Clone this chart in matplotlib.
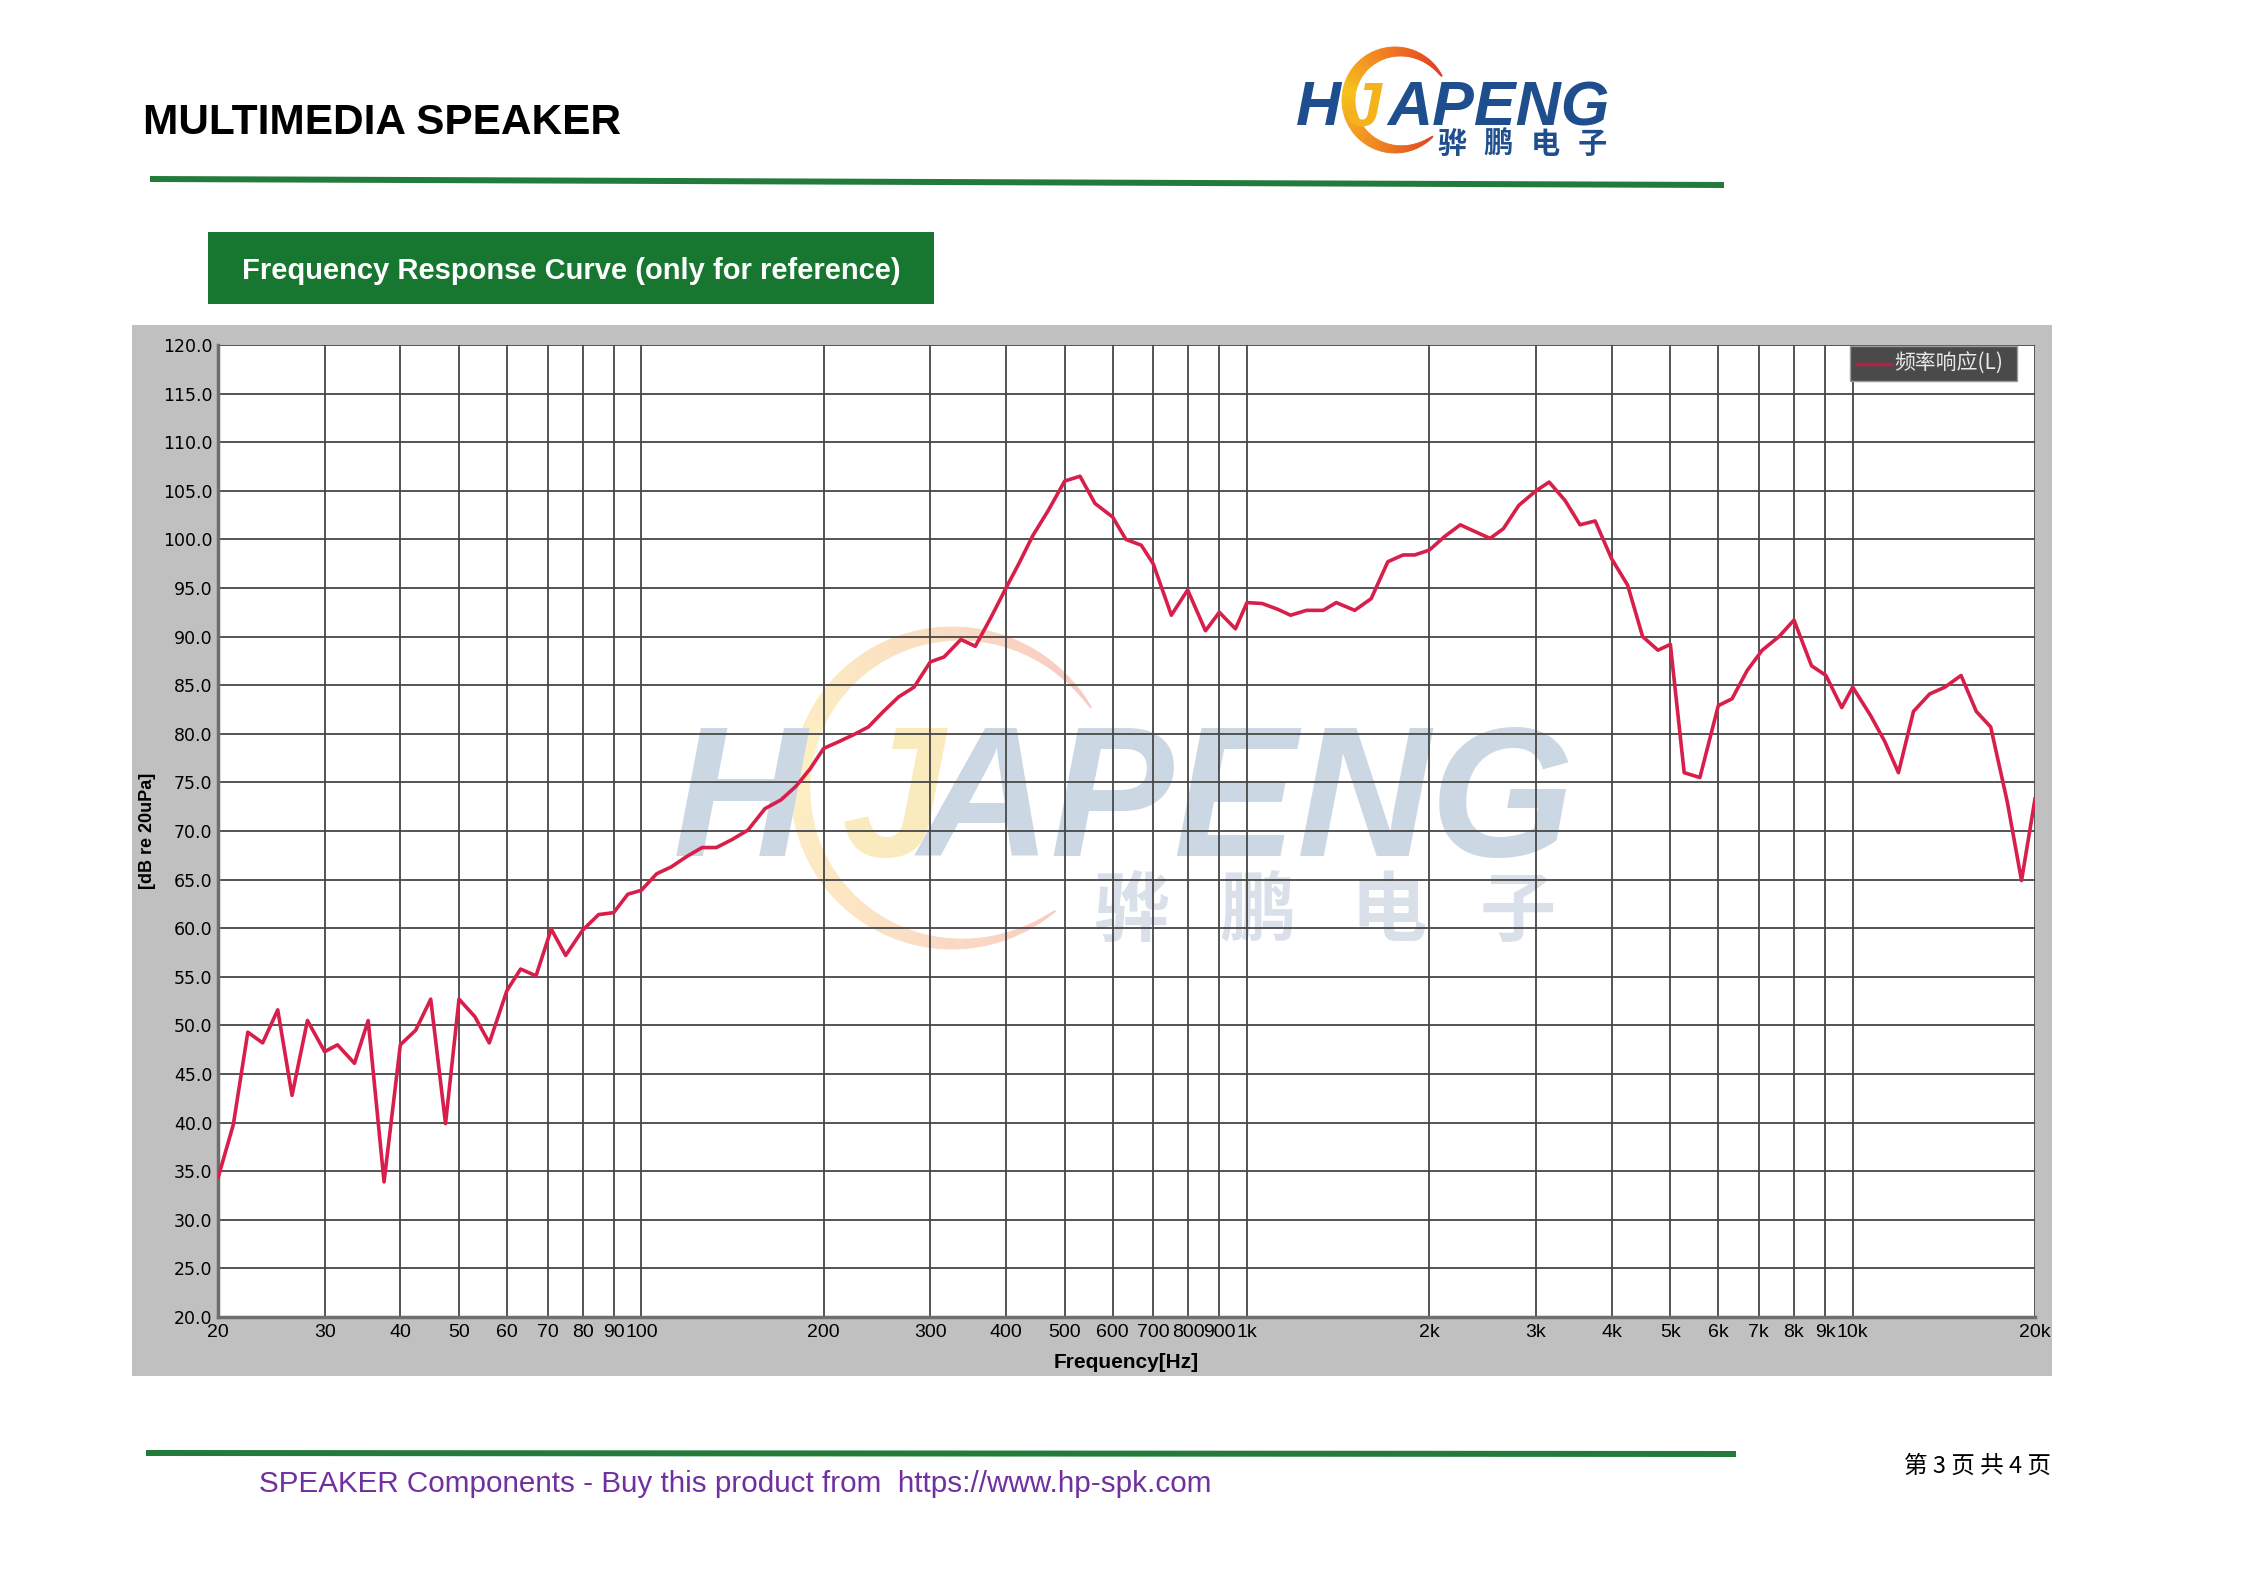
import numpy as np
import matplotlib
matplotlib.use('Agg')
import matplotlib.pyplot as plt
from matplotlib import transforms
from matplotlib.patches import Rectangle, Polygon
from matplotlib.lines import Line2D
from matplotlib.colors import LinearSegmentedColormap, to_rgb
from matplotlib.ticker import FixedLocator, FixedFormatter, NullLocator

W, H = 2245, 1587

# ---------------- data ----------------
freq_hz = [20, 21.2, 22.4, 23.7, 25.1, 26.5, 28.1, 30, 31.5, 33.6,
           35.4, 37.6, 40, 42.4, 44.9, 47.5, 50, 53.1, 56.1, 60,
           63.2, 67, 71, 75, 80, 85, 90, 95, 100, 106,
           112, 119, 126, 133, 141, 150, 160, 170, 180, 190,
           200, 212, 224, 237, 251, 266, 282, 300, 316, 337,
           356, 378, 400, 420, 443, 470, 500, 530, 561, 600,
           631, 669, 700, 750, 798, 854, 900, 957, 1000, 1060,
           1125, 1180, 1254, 1336, 1404, 1506, 1603, 1708, 1810, 1892,
           2000, 2120, 2250, 2380, 2520, 2650, 2810, 3000, 3154, 3351,
           3547, 3756, 4000, 4250, 4500, 4770, 5000, 5270, 5594, 6000,
           6321, 6694, 7090, 7556, 8000, 8551, 9034, 9594, 10000, 10700,
           11300, 11900, 12600, 13400, 14200, 15100, 16000, 16900, 18000, 19000,
           20000]
spl_db = [34.3, 39.8, 49.3, 48.2, 51.6, 42.8, 50.5, 47.3, 48.0, 46.1,
          50.5, 33.9, 48.0, 49.5, 52.7, 39.9, 52.7, 50.9, 48.2, 53.6,
          55.8, 55.1, 59.9, 57.2, 59.8, 61.4, 61.6, 63.5, 63.9, 65.6,
          66.3, 67.4, 68.3, 68.3, 69.1, 70.1, 72.3, 73.2, 74.6, 76.4,
          78.5, 79.2, 79.9, 80.7, 82.3, 83.8, 84.8, 87.4, 87.9, 89.7,
          89.0, 92.0, 95.0, 97.5, 100.4, 103.0, 106.0, 106.5, 103.7, 102.3,
          100.0, 99.4, 97.5, 92.2, 94.8, 90.6, 92.5, 90.8, 93.5, 93.4,
          92.8, 92.2, 92.7, 92.7, 93.5, 92.7, 93.9, 97.7, 98.4, 98.4,
          98.9, 100.3, 101.5, 100.8, 100.1, 101.1, 103.5, 105.0, 105.9, 104.0,
          101.5, 101.9, 98.0, 95.3, 90.0, 88.6, 89.2, 76.0, 75.5, 82.9,
          83.6, 86.5, 88.6, 90.0, 91.7, 87.0, 86.0, 82.7, 84.8, 81.9,
          79.2, 76.0, 82.3, 84.1, 84.8, 86.0, 82.3, 80.7, 73.0, 64.9,
          73.3]

x_ticks = [20, 30, 40, 50, 60, 70, 80, 90, 100, 200, 300, 400, 500, 600, 700,
           800, 900, 1000, 2000, 3000, 4000, 5000, 6000, 7000, 8000, 9000,
           10000, 20000]
x_tick_labels = ['20', '30', '40', '50', '60', '70', '80', '90', '100', '200',
                 '300', '400', '500', '600', '700', '800', '900', '1k', '2k',
                 '3k', '4k', '5k', '6k', '7k', '8k', '9k', '10k', '20k']
y_ticks = [20, 25, 30, 35, 40, 45, 50, 55, 60, 65, 70, 75, 80, 85, 90, 95,
           100, 105, 110, 115, 120]
y_tick_labels = ['%.1f' % v for v in y_ticks]

title_text = 'MULTIMEDIA SPEAKER'
box_text = 'Frequency Response Curve (only for reference)'
legend_text = '频率响应(L)'
x_label = 'Frequency[Hz]'
y_label = '[dB re 20uPa]'
footer_text = 'SPEAKER Components - Buy this product from  https://www.hp-spk.com'
page_text = '第 3 页 共 4 页'
brand_cn = ['骅', '鹏', '电', '子']

SANS = ['Liberation Sans', 'DejaVu Sans']
NARROW = ['Liberation Sans Narrow', 'Liberation Sans', 'DejaVu Sans']
CJK = ['Noto Sans CJK SC', 'DejaVu Sans']

fig = plt.figure(figsize=(W / 100, H / 100), dpi=100)
fig.patch.set_facecolor('white')

# pixel transforms: TD = top-left origin (reference pixel), TU = bottom-left origin
TD = transforms.Affine2D().scale(1 / W, -1 / H).translate(0, 1) + fig.transFigure
TU = transforms.Affine2D().scale(1 / W, 1 / H) + fig.transFigure


def blend(c, a):
    r, g, b = to_rgb(c)
    return (1 - a + a * r, 1 - a + a * g, 1 - a + a * b)


def crescent(add, cx, cy_ref, R, tmax, a0, a1, colors, alpha, zorder, n=80):
    cy = H - cy_ref
    cmap = LinearSegmentedColormap.from_list('c', colors)
    angs = np.linspace(a0, a1, n + 1)
    for i in range(n):
        sub = np.linspace(angs[i], angs[i + 1], 4)
        frac = (sub - a0) / (a1 - a0)
        t = tmax * np.sin(np.pi * frac) ** 0.8 + 1.0
        outer = [(cx + R * np.cos(np.radians(a)), cy + R * np.sin(np.radians(a))) for a in sub]
        inner = [(cx + (R - ti) * np.cos(np.radians(a)), cy + (R - ti) * np.sin(np.radians(a)))
                 for a, ti in zip(sub[::-1], t[::-1])]
        col = blend(cmap((i + 0.5) / n), alpha)
        poly = Polygon(outer + inner, closed=True, facecolor=col, edgecolor=col, lw=0.6,
                       transform=TU, zorder=zorder)
        add(poly)


# ---------------- header ----------------
fig.text(143, 134, title_text, transform=TD, fontsize=30.5, fontweight='bold',
         family=SANS, color='black', ha='left', va='baseline')
fig.add_artist(Polygon([(150, 176), (1724, 182), (1724, 188), (150, 182)], closed=True,
                       transform=TD, facecolor='#237a3b', edgecolor='none'))

# logo
crescent(fig.add_artist, 1395, 100, 53, 12, 27, 316,
         ['#e03a22', '#f07a20', '#f6c21c', '#f08a22', '#e0461f'], 1.0, 2)
fig.text(1296, 125, 'H', transform=TD, fontsize=45, fontweight='bold', style='italic',
         family=SANS, color='#1f4e8e', ha='left', va='baseline', zorder=3)
fig.text(1346, 125, 'J', transform=TD, fontsize=45, fontweight='bold', style='italic',
         family=SANS, color='#f4b31b', ha='left', va='baseline', zorder=3)
fig.text(1610, 125, 'APENG', transform=TD, fontsize=45, fontweight='bold', style='italic',
         family=SANS, color='#1f4e8e', ha='right', va='baseline', zorder=3)
for ch, xc in zip(brand_cn, [1452, 1498, 1545, 1592]):
    fig.text(xc, 144, ch, transform=TD, fontsize=21, fontweight='bold', family=CJK,
             color='#1f4e8e', ha='center', va='center', zorder=3)

# green title box
fig.add_artist(Rectangle((208, 232), 726, 72, transform=TD, facecolor='#17762f',
                         edgecolor='none', zorder=1))
fig.text(571, 271, box_text, transform=TD, fontsize=21, fontweight='bold', family=SANS,
         color='white', ha='center', va='center', zorder=2)

# chart grey panel
fig.add_artist(Rectangle((132, 325), 1920, 1051, transform=TD, facecolor='#c0c0c0',
                         edgecolor='none', zorder=-1))

# ---------------- chart ----------------
ax = fig.add_axes([218 / W, 1 - 1317 / H, 1817 / W, 972 / H])
ax.set_facecolor('white')
ax.set_xscale('log')

# watermark (below grid)
crescent(ax.add_artist, 952, 788, 161, 18, 30, 310,
         ['#e8453a', '#f0902e', '#f8cf38', '#f3a03a', '#e9583a'], 0.30, 0.2)
ax.text(673, 856, 'H', transform=TD, fontsize=133, fontweight='bold', style='italic',
        family=SANS, color='#ccd7e4', ha='left', va='baseline', zorder=0.3)
ax.text(842, 856, 'J', transform=TD, fontsize=133, fontweight='bold', style='italic',
        family=SANS, color='#f9ebbd', ha='left', va='baseline', zorder=0.25)
ax.text(1575, 856, 'APENG', transform=TD, fontsize=133, fontweight='bold', style='italic',
        family=SANS, color='#ccd7e4', ha='right', va='baseline', zorder=0.3)
for ch, xc in zip(brand_cn, [1132, 1257, 1389, 1518]):
    ax.text(xc, 912, ch, transform=TD, fontsize=55, fontweight='bold', family=CJK,
            color='#d9e0e9', ha='center', va='center', zorder=0.3)

ax.plot(freq_hz, spl_db, color='#d81e4a', lw=2.6, zorder=3, solid_joinstyle='round')

ax.set_xlim(20, 20000)
ax.set_ylim(20, 120)
ax.xaxis.set_major_locator(FixedLocator(x_ticks))
ax.xaxis.set_major_formatter(FixedFormatter(x_tick_labels))
ax.xaxis.set_minor_locator(NullLocator())
ax.yaxis.set_major_locator(FixedLocator(y_ticks))
ax.yaxis.set_major_formatter(FixedFormatter(y_tick_labels))
ax.set_axisbelow(True)
ax.grid(True, color='#474747', lw=1.3)
for s in ['top', 'right']:
    ax.spines[s].set_visible(False)
for s in ['left', 'bottom']:
    ax.spines[s].set_color('#6e6e6e')
    ax.spines[s].set_linewidth(2.5)
ax.tick_params(axis='both', length=0)
ax.tick_params(axis='x', pad=5)
ax.tick_params(axis='y', pad=4)
for lab in ax.get_xticklabels():
    lab.set_family(NARROW)
    lab.set_fontsize(14)
for lab in ax.get_yticklabels():
    lab.set_family(['DejaVu Sans'])
    lab.set_fontsize(12.5)

ax.set_xlabel(x_label, fontsize=15, fontweight='bold', family=SANS, va='center')
ax.xaxis.set_label_coords(0.5, (1317 - 1363) / 972)
ax.set_ylabel(y_label, fontsize=13, fontweight='bold', family=SANS, va='center')
ax.yaxis.set_label_coords((147 - 218) / 1817, 0.5)

# legend (drawn on top)
fig.add_artist(Rectangle((1850, 346), 167, 35, transform=TD, facecolor='#4a4a4a',
                         edgecolor='#9a9a9a', lw=1, zorder=5))
fig.add_artist(Line2D([1856, 1891], [364, 364], transform=TD, color='#b8203f', lw=2.5,
                      zorder=6))
fig.text(1894, 364, legend_text, transform=TD, fontsize=15, family=CJK, color='#e8e8e8',
         ha='left', va='center', zorder=6)

# ---------------- footer ----------------
fig.add_artist(Polygon([(146, 1450), (1736, 1451), (1736, 1457), (146, 1456)], closed=True,
                       transform=TD, facecolor='#237a3b', edgecolor='none'))
fig.text(259, 1484, footer_text, transform=TD, fontsize=21.3, family=SANS, color='#7030a0',
         ha='left', va='center')
fig.text(2051, 1466, page_text, transform=TD, fontsize=17, family=CJK, color='black',
         ha='right', va='center')

fig.savefig('out.png', dpi=100, facecolor='white')
